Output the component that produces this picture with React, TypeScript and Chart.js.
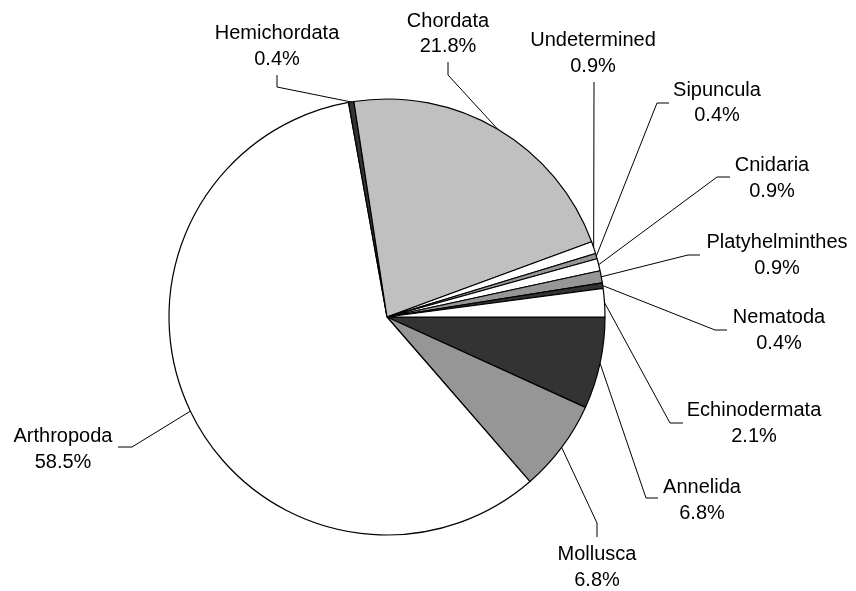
import React, { useEffect, useRef } from "react";
import { Chart, registerables } from "chart.js";

Chart.register(...registerables);

// ---- data (clockwise from 3 o'clock) ----
const categories = [
  "Annelida",
  "Mollusca",
  "Arthropoda",
  "Hemichordata",
  "Chordata",
  "Undetermined",
  "Sipuncula",
  "Cnidaria",
  "Platyhelminthes",
  "Nematoda",
  "Echinodermata",
];
const percentages = [6.8, 6.8, 58.5, 0.4, 21.8, 0.9, 0.4, 0.9, 0.9, 0.4, 2.1];
const sliceColors = [
  "#333333",
  "#969696",
  "#ffffff",
  "#333333",
  "#c0c0c0",
  "#ffffff",
  "#969696",
  "#ffffff",
  "#969696",
  "#333333",
  "#ffffff",
];

// ---- label layout, offsets from pie centre: [textX, textY(cap centre of line 1), elbowX, elbowY, attachX, attachY]
const labelLayout: number[][] = [
  [315, 169, 259, 181, 271, 181], // Annelida
  [210, 236, 210, 206, 210, 220], // Mollusca
  [-324, 118, -255, 130, -269, 130], // Arthropoda
  [-110, -285, -110, -230, -110, -242], // Hemichordata
  [61, -297.5, 61, -242, 61, -255], // Chordata
  [206, -278, 207, -235, 207, -235], // Undetermined
  [330, -228.5, 270, -214, 282, -214], // Sipuncula
  [385, -153, 330, -140, 343, -140], // Cnidaria
  [390, -76, 301, -62, 313, -62], // Platyhelminthes
  [392, -1, 328, 13, 340, 13], // Nematoda
  [367, 92, 283, 106, 296, 106], // Echinodermata
];

const FONT = '20px "Liberation Sans", Arial, sans-serif';
const LINE_GAP = 25.5;

const leaderLabels = {
  id: "leaderLabels",
  afterDatasetsDraw(chart: any) {
    const ctx = chart.ctx;
    const meta = chart.getDatasetMeta(0);
    ctx.save();
    ctx.font = FONT;
    ctx.fillStyle = "#000";
    ctx.strokeStyle = "#000";
    ctx.lineWidth = 1;
    ctx.textAlign = "center";
    ctx.textBaseline = "alphabetic";
    meta.data.forEach((arc: any, i: number) => {
      const p = arc.getProps(["x", "y", "startAngle", "endAngle", "outerRadius"], true);
      const mid = (p.startAngle + p.endAngle) / 2;
      const px = p.x + Math.cos(mid) * p.outerRadius;
      const py = p.y + Math.sin(mid) * p.outerRadius;
      const L = labelLayout[i];
      ctx.beginPath();
      ctx.moveTo(px, py);
      ctx.lineTo(p.x + L[2], p.y + L[3]);
      ctx.lineTo(p.x + L[4], p.y + L[5]);
      ctx.stroke();
      const tx = p.x + L[0];
      const ty = p.y + L[1] + 7;
      ctx.fillText(categories[i], tx, ty);
      ctx.fillText(percentages[i].toFixed(1) + "%", tx, ty + LINE_GAP);
    });
    ctx.restore();
  },
};

export default function App() {
  const ref = useRef<HTMLCanvasElement | null>(null);
  useEffect(() => {
    if (!ref.current) return;
    const chart = new Chart(ref.current, {
      type: "pie",
      data: {
        labels: categories,
        datasets: [
          {
            data: percentages,
            backgroundColor: sliceColors,
            borderColor: "#000000",
            borderWidth: 1.2,
          },
        ],
      },
      options: {
        animation: false,
        responsive: true,
        maintainAspectRatio: false,
        rotation: 90,
        radius: 218,
        layout: { padding: { left: 169, right: 251, top: 99, bottom: 56 } },
        plugins: {
          legend: { display: false },
          tooltip: { enabled: false },
        },
      },
      plugins: [leaderLabels],
    });
    return () => chart.destroy();
  }, []);
  return (
    <div
      style={{
        position: "fixed",
        left: 0,
        top: 0,
        width: 856,
        height: 591,
        background: "#ffffff",
      }}
    >
      <canvas ref={ref} />
    </div>
  );
}
